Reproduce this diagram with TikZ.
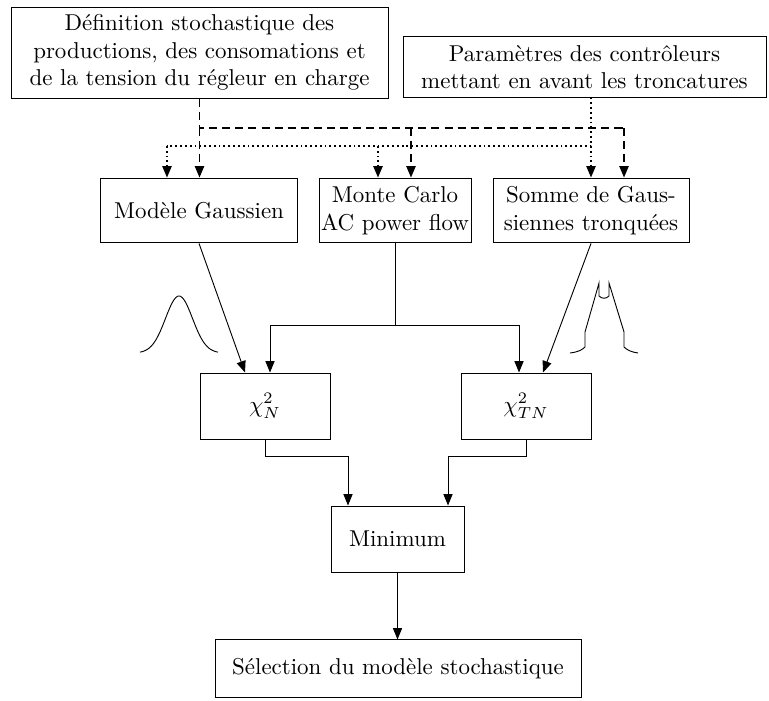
\documentclass[tikz,border=0pt]{standalone}
\usepackage{tikz}
\usetikzlibrary{arrows.meta}
\usepackage{amsmath, amssymb}

\tikzset{
  boite/.style={draw, rectangle, inner sep=0pt, align=center},
  fleche/.style={-{Triangle[length=5pt,width=4pt]}},
  tiret/.style={thick, dash pattern=on 3.5pt off 2.2pt},
  pointille/.style={thick, dash pattern=on 0.8pt off 1.3pt}
}

\begin{document}
\begin{tikzpicture}[x=0.436pt, y=-0.436pt]

\useasboundingbox (0,0) rectangle (769,700);

% Entrées
\node (def) at (199.5,52.5) [boite, minimum width=164.4pt, minimum height=39.7pt]
  {Définition stochastique des\\productions, des consomations et\\de la tension du régleur en charge};
\node (param) at (584.5,67) [boite, minimum width=158.3pt, minimum height=26.2pt]
  {Paramètres des contrôleurs\\mettant en avant les troncatures};

% Modèles
\node (modele) at (199,210.5) [boite, minimum width=85.5pt, minimum height=28.3pt] {Modèle Gaussien};
\node (monte) at (395,210.5) [boite, minimum width=66.3pt, minimum height=28.3pt] {Monte Carlo\\AC power flow};
\node (somme) at (591,210.5) [boite, minimum width=85.5pt, minimum height=28.3pt] {Somme de Gaus-\\siennes tronquées};

% Tests
\node (chiN) at (265,406) [boite, minimum width=56.7pt, minimum height=28.8pt] {$\chi^2_N$};
\node (chiTN) at (526,406) [boite, minimum width=56.7pt, minimum height=28.8pt] {$\chi^2_{TN}$};
\node (mini) at (397.5,539) [boite, minimum width=58pt, minimum height=28.8pt] {Minimum};
\node (sel) at (398,668.5) [boite, minimum width=159.6pt, minimum height=24.9pt] {Sélection du modèle stochastique};

% Points de passage
\coordinate (ta) at (def.south |- 0,128);
\coordinate (tb) at (411,128);
\coordinate (tc) at (624,128);
\coordinate (pa) at (167,146);
\coordinate (pb) at (378,146);
\coordinate (pc) at (591,146);
\coordinate (ea) at (270,325);
\coordinate (eb) at (519,325);
\coordinate (ga) at (245,0);
\coordinate (gb) at (543,0);
\coordinate (ma) at (348,456);
\coordinate (mb) at (448,456);

% Liaisons en tirets et en pointillés
\draw[tiret] (def.south) -- (ta) -- (tc);
\draw[pointille] (param.south -| pc) -- (pc) -- (pa);
\foreach \c/\b in {ta/modele, tb/monte, tc/somme}
  \draw[tiret, fleche] (\c) -- (\c |- \b.north);
\foreach \c/\b in {pa/modele, pb/monte, pc/somme}
  \draw[pointille, fleche] (\c) -- (\c |- \b.north);

% Liaisons vers les tests
\draw[fleche] (modele.south) -- (ga |- chiN.north);
\draw[fleche] (somme.south) -- (gb |- chiTN.north);
\draw[fleche] (monte.south) |- (ea) -- (ea |- chiN.north);
\draw[fleche] (monte.south) |- (eb) -- (eb |- chiTN.north);
\draw[fleche] (chiN.south) |- (ma) -- (ma |- mini.north);
\draw[fleche] (chiTN.south) |- (mb) -- (mb |- mini.north);
\draw[fleche] (mini.south) -- (mini.south |- sel.north);

% Courbes
\draw plot[domain=-39:39, samples=80, smooth] ({179+\x},{353-57*exp(-0.5*(\x/13.5)*(\x/13.5))});
\draw (570,353) .. controls (578,352) and (582,350) .. (585,347) -- (585,332) -- (599,283)
  -- (599,296) .. controls (602,299) and (606,299) .. (609,296) -- (609,283) -- (624,332)
  -- (624,347) .. controls (627,350) and (631,352) .. (638,353);

\end{tikzpicture}
\end{document}
